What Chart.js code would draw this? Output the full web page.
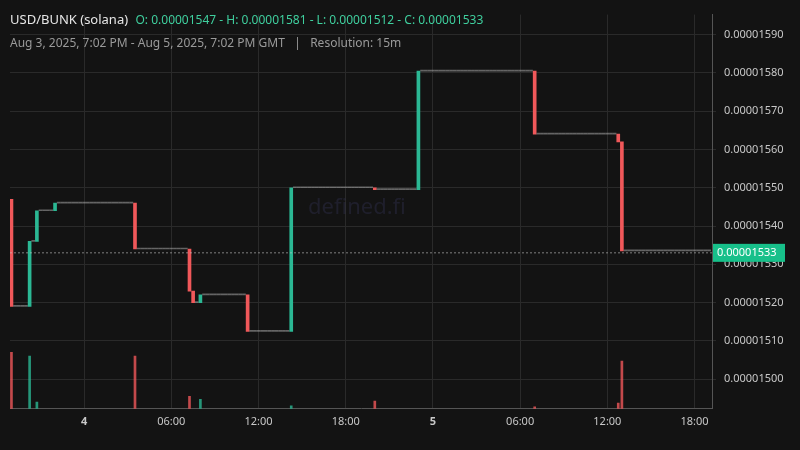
<!DOCTYPE html>
<html>
<head>
<meta charset="utf-8">
<script src="https://cdn.jsdelivr.net/npm/chart.js@4/dist/chart.umd.min.js"></script>
<style>
  html, body { margin: 0; background: #131313; }
  #wrap { position: relative; width: 800px; height: 450px; }
  #hdr { position: absolute; left: 10px; top: 10px; font-family: 'Noto Sans', sans-serif; pointer-events: none; }
  #hdr .l1 { font-size: 13px; color: #e6e6e6; }
  #hdr .l1 span { color: #3fcf9e; font-size: 12px; margin-left: 4px; }
  #hdr .l2 { font-size: 12px; color: #9a9a9a; margin-top: 6px; }
  #wm { position: absolute; left: 308px; top: 190px; font: 22px 'Noto Sans', sans-serif; color: rgba(90,90,160,0.18); pointer-events: none; }
</style>
</head>
<body>
<div id="wrap">
  <canvas id="c" width="800" height="450"></canvas>
  <div id="wm">defined.fi</div>
  <div id="hdr">
    <div class="l1">USD/BUNK (solana) <span>O: 0.00001547 - H: 0.00001581 - L: 0.00001512 - C: 0.00001533</span></div>
    <div class="l2">Aug 3, 2025, 7:02 PM - Aug 5, 2025, 7:02 PM GMT &nbsp; | &nbsp; Resolution: 15m</div>
  </div>
</div>
<script>
// time in hours from Aug 4 00:00 GMT, prices in 1e-8 units
const START_H = -5;
const END_H = 43;
const FIRST_OPEN = 1547;
const moveHours  = [-5,   -3.75, -3.25, -2,   3.5,  7.25, 7.5,  8,    11.25, 14.25, 20,   23,   31,   36.75, 37];
const moveCloses = [1519, 1536,  1544,  1546, 1534, 1523, 1520, 1522, 1512.5, 1550, 1549.5, 1580.5, 1564, 1562, 1533.5];
const moveVolumes = [59,  55,    7,     0,    55,   13,   0,    10,   0,     3,    8,    0,    2,    6,    50];
const yTicks = [1500, 1510, 1520, 1530, 1540, 1550, 1560, 1570, 1580, 1590];
const xTicks = [0, 6, 12, 18, 24, 30, 36, 42];
const LAST_PRICE = 1533;

const GREEN = '#2bb894';
const RED = '#f0585a';
const FLAT = 'rgba(170,170,170,0.55)';

const candles = [];
const vols = [];
let prev = FIRST_OPEN;
for (let h = START_H; h <= END_H; h += 0.25) {
    const k = moveHours.indexOf(h);
    const close = k >= 0 ? moveCloses[k] : prev;
    candles.push({ x: h, y: [prev, close], o: prev, c: close });
    if (k >= 0 && moveVolumes[k] > 0) vols.push({ x: h, y: moveVolumes[k], up: close >= prev });
    prev = close;
}
const candleColor = ctx => {
    const d = ctx.raw;
    if (!d) return FLAT;
    return d.c > d.o ? GREEN : d.c < d.o ? RED : FLAT;
};

const lastPricePlugin = {
    id: 'lastPrice',
    afterDatasetsDraw(chart) {
        const { ctx, chartArea, scales } = chart;
        const y = scales.y.getPixelForValue(LAST_PRICE);
        ctx.save();
        ctx.strokeStyle = 'rgba(200,200,200,0.6)';
        ctx.setLineDash([2, 2]);
        ctx.lineWidth = 1;
        ctx.beginPath();
        ctx.moveTo(chartArea.left, y);
        ctx.lineTo(chartArea.right, y);
        ctx.stroke();
        ctx.setLineDash([]);
        ctx.fillStyle = '#17c08a';
        ctx.fillRect(chartArea.right + 1, y - 9, 72, 18);
        ctx.fillStyle = '#ffffff';
        ctx.font = '11px "Noto Sans"';
        ctx.textBaseline = 'middle';
        ctx.fillText((LAST_PRICE / 1e8).toFixed(8), chartArea.right + 5, y);
        ctx.restore();
    }
};

new Chart(document.getElementById('c'), {
    type: 'bar',
    data: {
        datasets: [
            {
                data: candles,
                backgroundColor: candleColor,
                barThickness: 3,
                minBarLength: 1,
                grouped: false,
                yAxisID: 'y',
            },
            {
                data: vols,
                backgroundColor: ctx => ctx.raw && ctx.raw.up ? 'rgba(43,184,148,0.8)' : 'rgba(240,88,90,0.8)',
                barThickness: 2,
                grouped: false,
                yAxisID: 'yv',
            },
        ],
    },
    plugins: [lastPricePlugin],
    options: {
        responsive: false,
        animation: false,
        layout: { padding: { left: 10, top: 0, right: 0, bottom: 16 } },
        plugins: { legend: { display: false }, tooltip: { enabled: false } },
        scales: {
            x: {
                type: 'linear',
                offset: false,
                min: -5.1,
                max: 43.2,
                afterBuildTicks: s => { s.ticks = xTicks.map(v => ({ value: v })); },
                ticks: {
                    callback: v => v % 24 === 0 ? String(4 + v / 24) : String(v % 24).padStart(2, '0') + ':00',
                    color: '#c8c8c8',
                    font: ctx => ({ family: 'Noto Sans', size: 11, weight: ctx.tick && ctx.tick.value % 24 === 0 ? 'bold' : 'normal' }),
                    maxRotation: 0,
                    padding: 6,
                },
                grid: { color: '#2a2a2a', drawTicks: false, offset: false },
                border: { color: '#555' },
            },
            y: {
                position: 'right',
                min: 1492.25,
                max: 1595.25,
                afterBuildTicks: s => { s.ticks = yTicks.map(v => ({ value: v })); },
                afterFit: s => { s.width = 88; },
                ticks: {
                    callback: v => (v / 1e8).toFixed(8),
                    color: '#c8c8c8',
                    font: { family: 'Noto Sans', size: 11 },
                    padding: 8,
                },
                grid: { color: '#2a2a2a', drawTicks: true, tickLength: 4 },
                border: { color: '#555' },
            },
            yv: {
                display: false,
                min: 0,
                max: 412,
            },
        },
    },
});
</script>
</body>
</html>
